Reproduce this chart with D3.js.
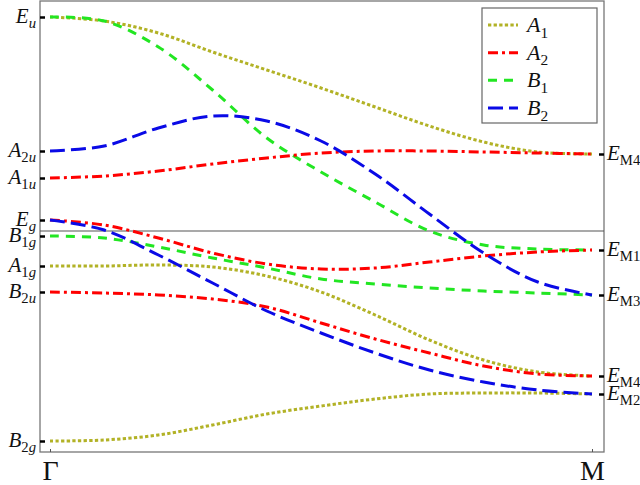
<!DOCTYPE html>
<html>
<head>
<meta charset="utf-8">
<script src="https://cdn.jsdelivr.net/npm/d3@7/dist/d3.min.js"></script>
<style>
body { margin: 0; background: #fff; }
text { font-family: "Liberation Serif", "DejaVu Serif", serif; }
</style>
</head>
<body>
<div id="chart"></div>
<script>
// k path from Gamma (0) to M (1)
var kPoints = [0, 0.1, 0.2, 0.3, 0.4, 0.5, 0.6, 0.7, 0.8, 0.9, 1];

// band energies (arbitrary units) read at each k point
var a1Upper = [435, 431, 419, 400, 382, 364, 345, 326, 310, 300, 298];
var a2Upper = [274, 276, 281, 288, 294, 299, 301, 301, 300, 299, 298];
var b1Upper = [435, 431, 405, 362, 314, 280, 250, 221, 207, 203, 202];
var b2Upper = [301, 306, 324, 336, 331, 311, 278, 238, 199, 170, 157];
var b2Lower = [232, 222, 197, 169, 141, 119, 99, 82, 70, 62, 58];
var a2Lower = [232, 227, 214, 199, 188, 183, 184, 190, 196, 200, 202];
var b1Lower = [216, 214, 205, 194, 184, 173, 168, 164, 161, 159, 157];
var a1Lower = [186, 186, 187, 185, 176, 160, 137, 112, 92, 80, 76];
var a2Bottom = [160, 159, 157, 153, 145, 129, 113, 99, 86, 78, 76];
var a1Bottom = [11, 12, 17, 27, 38, 46, 53, 58, 59, 59, 58];

var gammaLevels = [435, 301, 274, 232, 216, 186, 160, 11];
var gammaNames = ["E|u", "A|2u", "A|1u", "E|g", "B|1g", "A|1g", "B|2u", "B|2g"];
var mLevels = [298, 202, 157, 76, 58];
var mNames = ["E|M4", "E|M1", "E|M3", "E|M4", "E|M2"];
var gapLevel = 221;

var kLabels = ["Γ", "M"];
var legendNames = ["A|1", "A|2", "B|1", "B|2"];

var bands = [
    { sym: "A|1", values: a1Upper },
    { sym: "A|1", values: a1Lower },
    { sym: "A|1", values: a1Bottom },
    { sym: "B|1", values: b1Upper },
    { sym: "B|1", values: b1Lower },
    { sym: "A|2", values: a2Upper },
    { sym: "A|2", values: a2Lower },
    { sym: "A|2", values: a2Bottom },
    { sym: "B|2", values: b2Upper },
    { sym: "B|2", values: b2Lower }
];

var styles = {
    "A|1": { color: "#b2b226", dash: "3.3,2.3" },
    "A|2": { color: "#ff0000", dash: "10,4,3,4" },
    "B|1": { color: "#22e622", dash: "9,7" },
    "B|2": { color: "#0a0ae6", dash: "15,6" }
};

var width = 640, height = 485;
var frameLeft = 40, frameRight = 604, frameTop = 1, frameBottom = 452;

var svg = d3.select("#chart").append("svg")
    .attr("width", width)
    .attr("height", height);

var x = d3.scaleLinear().domain([0, 1]).range([50, 592]);
var y = d3.scaleLinear().domain([0, 451]).range([frameBottom, frameTop]);

// frame
svg.append("rect")
    .attr("x", frameLeft).attr("y", frameTop)
    .attr("width", frameRight - frameLeft).attr("height", frameBottom - frameTop)
    .attr("fill", "none").attr("stroke", "#777").attr("stroke-width", 1.3);

svg.append("line")
    .attr("x1", frameLeft).attr("x2", frameRight)
    .attr("y1", y(gapLevel)).attr("y2", y(gapLevel))
    .attr("stroke", "#555").attr("stroke-width", 1.2);

// bands
var line = d3.line()
    .x(function (d, i) { return x(kPoints[i]); })
    .y(function (d) { return y(d); })
    .curve(d3.curveCatmullRom.alpha(0.5));

svg.selectAll("path.band")
    .data(bands)
    .enter()
    .append("path")
    .attr("class", "band")
    .attr("fill", "none")
    .attr("stroke", function (d) { return styles[d.sym].color; })
    .attr("stroke-width", 3)
    .attr("stroke-dasharray", function (d) { return styles[d.sym].dash; })
    .attr("d", function (d) { return line(d.values); });

// math label: "A|2u" -> italic A, subscript 2u
function mathLabel(sel, name, size) {
    var parts = name.split("|");
    sel.append("tspan")
        .attr("font-style", "italic")
        .attr("font-size", size)
        .text(parts[0]);
    var first = true;
    parts[1].split("").forEach(function (ch) {
        var t = sel.append("tspan")
            .attr("font-size", size * 0.7)
            .attr("font-style", /[ug]/.test(ch) ? "italic" : "normal")
            .text(ch);
        if (first) { t.attr("dy", size * 0.25); first = false; }
    });
}

// left axis (Gamma levels)
var leftAxis = d3.axisLeft(y).tickValues(gammaLevels).tickSize(-5).tickFormat("");
var gl = svg.append("g").attr("transform", "translate(" + frameLeft + ",0)").call(leftAxis);
gl.select(".domain").remove();
gl.selectAll(".tick line").attr("stroke", "#000").attr("stroke-width", 2.5);

gammaLevels.forEach(function (v, i) {
    var t = svg.append("text")
        .attr("x", 36)
        .attr("y", y(v) + 6)
        .attr("text-anchor", "end")
        .attr("fill", "#111");
    mathLabel(t, gammaNames[i], 21);
});

// right axis (M levels)
var rightAxis = d3.axisRight(y).tickValues(mLevels).tickSize(-5).tickFormat("");
var gr = svg.append("g").attr("transform", "translate(" + frameRight + ",0)").call(rightAxis);
gr.select(".domain").remove();
gr.selectAll(".tick line").attr("stroke", "#000").attr("stroke-width", 2.5);

mLevels.forEach(function (v, i) {
    var t = svg.append("text")
        .attr("x", 607)
        .attr("y", y(v) + 6)
        .attr("fill", "#111");
    mathLabel(t, mNames[i], 21);
});

// bottom axis (k labels)
var bottomAxis = d3.axisBottom(x).tickValues([0, 1]).tickSize(-3)
    .tickFormat(function (d, i) { return kLabels[i]; });
var gb = svg.append("g").attr("transform", "translate(0," + frameBottom + ")").call(bottomAxis);
gb.select(".domain").remove();
gb.selectAll(".tick line").attr("stroke", "#555");
gb.selectAll(".tick text")
    .attr("y", 28)
    .attr("dy", 0)
    .attr("font-size", 28)
    .attr("font-family", "Liberation Serif, serif")
    .attr("fill", "#111");

// legend
var legend = svg.append("g");
legend.append("rect")
    .attr("x", 482).attr("y", 8)
    .attr("width", 115).attr("height", 115)
    .attr("fill", "#fff").attr("stroke", "#666").attr("stroke-width", 1.2);

var legendY = d3.scalePoint().domain(legendNames).range([25, 108]);

legendNames.forEach(function (name) {
    var ly = legendY(name);
    legend.append("line")
        .attr("x1", 488).attr("x2", 518)
        .attr("y1", ly).attr("y2", ly)
        .attr("stroke", styles[name].color)
        .attr("stroke-width", 3)
        .attr("stroke-dasharray", styles[name].dash);
    var t = legend.append("text")
        .attr("x", 527)
        .attr("y", ly + 7)
        .attr("fill", "#111");
    mathLabel(t, name, 22);
});
</script>
</body>
</html>
